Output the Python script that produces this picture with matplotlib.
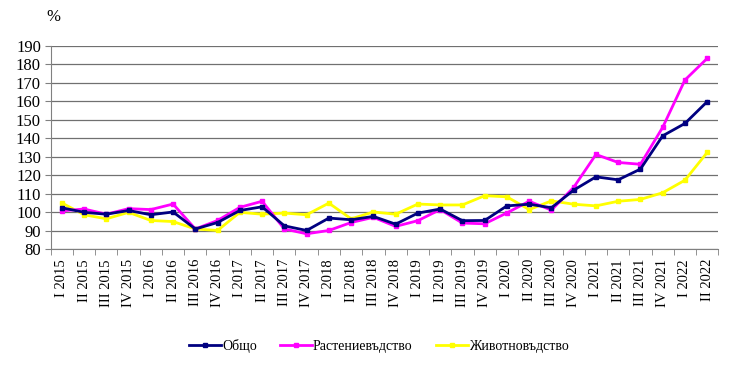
import matplotlib.pyplot as plt
import numpy as np

plt.rcParams['font.family'] = ['Liberation Serif', 'DejaVu Serif']

# Quarter labels
quarters = ['I', 'II', 'III', 'IV']
labels = [f"{q} {y}" for y in range(2015, 2023) for q in quarters][:30]

# Index values, %
total = [102.5, 100.0, 99.0, 101.0, 98.7, 100.2, 91.0, 94.5, 101.0, 103.0,
         92.7, 90.2, 96.9, 96.0, 97.8, 93.6, 99.6, 101.8, 95.5, 95.6,
         103.5, 104.4, 102.5, 112.0, 119.2, 117.6, 123.4, 141.4, 148.1, 159.9]
crops = [100.8, 101.8, 99.0, 102.0, 101.5, 104.5, 91.0, 95.6, 102.7, 106.0,
         91.0, 88.4, 90.2, 94.5, 97.3, 92.4, 95.5, 101.5, 94.2, 93.8,
         99.7, 106.0, 101.2, 113.5, 131.3, 127.0, 126.0, 146.0, 171.6, 183.3]
livestock = [105.1, 98.7, 96.5, 100.0, 95.6, 95.0, 91.0, 90.2, 100.0, 99.0,
             99.6, 98.7, 105.0, 96.5, 100.2, 99.0, 104.5, 104.0, 104.0, 109.0,
             108.4, 101.5, 106.2, 104.4, 103.5, 106.0, 107.0, 110.6, 117.4, 132.4]

fig = plt.figure(figsize=(7.4, 3.71), dpi=100)
ax = fig.add_axes([0.0685, 0.328, 0.9022, 0.548])

x = np.arange(len(labels))
ax.plot(x, total, color='#000080', lw=2.0, marker='s', ms=2.5, label='Общо', zorder=3)
ax.plot(x, crops, color='#FF00FF', lw=2.0, marker='s', ms=2.5, label='Растениевъдство', zorder=2)
ax.plot(x, livestock, color='#FFFF00', lw=2.0, marker='s', ms=2.5, label='Животновъдство', zorder=1)

ax.set_xlim(-0.5, len(labels) - 0.5)
ax.set_ylim(80, 190)
ax.set_yticks(range(80, 191, 10))
ax.yaxis.grid(True, color='#707070', lw=0.9)
ax.set_axisbelow(True)

ax.set_xticks(x)
ax.set_xticklabels(labels, rotation=90, fontsize=10.5)
ax.set_xticks(np.arange(-0.5, len(labels)), minor=True)
ax.tick_params(axis='x', which='major', length=0, pad=7)
ax.tick_params(axis='x', which='minor', length=4, color='#808080')
ax.tick_params(axis='y', labelsize=12, length=4, color='#808080', pad=3)

for s in ['top', 'right']:
    ax.spines[s].set_visible(False)
ax.spines['left'].set_color('#808080')
ax.spines['bottom'].set_color('#808080')

fig.text(0.062, 0.955, '%', fontsize=12, ha='left', va='center')

fig.legend(loc='center', bbox_to_anchor=(0.512, 0.068), ncol=3, frameon=False,
           fontsize=10, handlelength=2.3, columnspacing=1.7, handletextpad=0.05)

fig.savefig('out.png', dpi=100)
